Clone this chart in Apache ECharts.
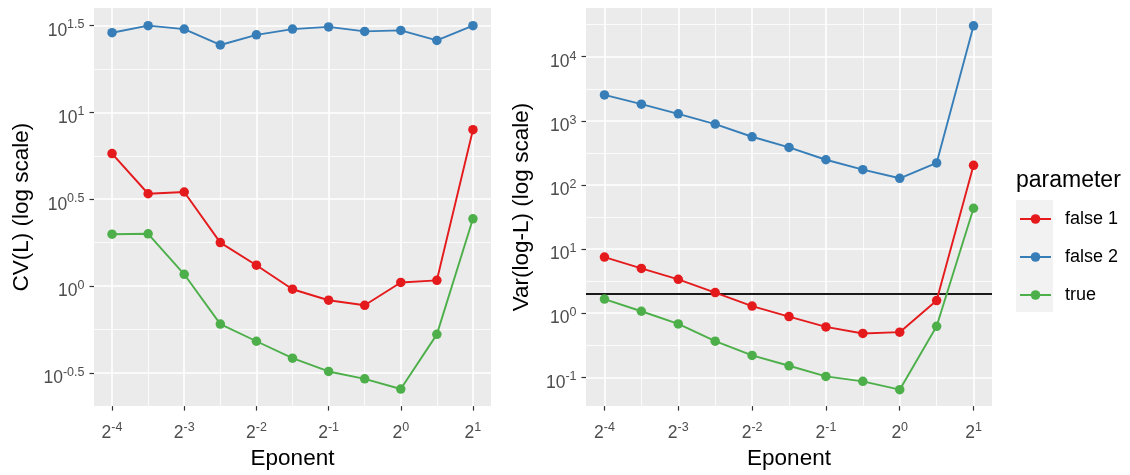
<!DOCTYPE html>
<html><head><meta charset="utf-8">
<script src="https://cdn.jsdelivr.net/npm/echarts@6/dist/echarts.min.js"></script>
<style>html,body{margin:0;padding:0;background:#fff}#c{width:1130px;height:475px}</style>
</head><body><div id="c"></div>
<script>
// ---- data ----
const eponent = [0.0625, 0.08839, 0.125, 0.17678, 0.25, 0.35355, 0.5, 0.70711, 1, 1.41421, 2];
const seriesNames = ['false 1', 'false 2', 'true'];
const cvFalse1 = [5.79, 3.40, 3.48, 1.78, 1.32, 0.96, 0.83, 0.776, 1.05, 1.08, 7.94];
const cvFalse2 = [28.7, 31.5, 30.1, 24.4, 27.9, 30.1, 31.0, 29.2, 29.6, 25.9, 31.5];
const cvTrue   = [1.99, 2.00, 1.17, 0.605, 0.482, 0.385, 0.323, 0.293, 0.256, 0.528, 2.44];
const varFalse1 = [7.48, 4.99, 3.37, 2.09, 1.29, 0.885, 0.61, 0.482, 0.505, 1.57, 202];
const varFalse2 = [2535, 1820, 1285, 889, 564, 385, 247, 173, 127, 220, 30300];
const varTrue   = [1.66, 1.07, 0.68, 0.366, 0.219, 0.151, 0.103, 0.0863, 0.064, 0.623, 43.3];
const threshold = 2;
// tick labels (exponents)
const xTickExp = [-4, -3, -2, -1, 0, 1];
const xMinorExp = [-3.5, -2.5, -1.5, -0.5, 0.5];
const cvTickExp = [-0.5, 0, 0.5, 1, 1.5];
const cvMinorExp = [-0.25, 0.25, 0.75, 1.25];
const varTickExp = [-1, 0, 1, 2, 3, 4];
const varMinorExp = [-0.5, 0.5, 1.5, 2.5, 3.5, 4.5];

const colors = ['#E41A1C', '#377EB8', '#4DAF4A'];
const FONT = 'Liberation Sans, Arial, Helvetica, sans-serif';
const TICKC = '#4D4D4D';

const chart = echarts.init(document.getElementById('c'), null, {renderer: 'canvas'});

const richX = {
  b: {fontSize: 17.5, color: TICKC, fontFamily: FONT},
  s: {fontSize: 12.5, color: TICKC, fontFamily: FONT, padding: [0, 0, 11, 0]}
};
const richY = {
  b: {fontSize: 17.5, color: TICKC, fontFamily: FONT, padding: [11, 0, 0, 0]},
  s: {fontSize: 12.5, color: TICKC, fontFamily: FONT, padding: [0, 0, 1, 0]}
};
function powFmt(base) {
  return v => '{b|' + base + '}{s|' + String(v) + '}';
}
function xAxis(idx) {
  return {
    type: 'value', gridIndex: idx, min: -4.25, max: 1.25,
    axisLine: {show: false, onZero: false}, splitLine: {show: false},
    axisTick: {show: true, customValues: xTickExp, length: 4.5, lineStyle: {color: '#333', width: 1.2}},
    axisLabel: {customValues: xTickExp, formatter: powFmt(2), rich: richX, margin: 15},
    name: 'Eponent', nameLocation: 'middle', nameGap: 40,
    nameTextStyle: {fontSize: 22.5, color: '#000', fontFamily: FONT}
  };
}
function yAxis(idx, min, max, ticks, name, gap) {
  return {
    type: 'value', gridIndex: idx, min: min, max: max,
    axisLine: {show: false, onZero: false}, splitLine: {show: false},
    axisTick: {show: true, customValues: ticks, length: 4.5, lineStyle: {color: '#333', width: 1.2}},
    axisLabel: {customValues: ticks, formatter: powFmt(10), rich: richY, margin: 9.5},
    name: name, nameLocation: 'middle', nameGap: gap, nameRotate: 90,
    nameTextStyle: {fontSize: 22.5, color: '#000', fontFamily: FONT}
  };
}
function gridSeries(idx, yMajor, yMinor) {
  const d = [];
  xMinorExp.forEach(v => d.push({xAxis: v, lineStyle: {color: '#fff', width: 0.8, type: 'solid'}}));
  yMinor.forEach(v => d.push({yAxis: v, lineStyle: {color: '#fff', width: 0.8, type: 'solid'}}));
  xTickExp.forEach(v => d.push({xAxis: v, lineStyle: {color: '#fff', width: 1.6, type: 'solid'}}));
  yMajor.forEach(v => d.push({yAxis: v, lineStyle: {color: '#fff', width: 1.6, type: 'solid'}}));
  return {
    type: 'line', xAxisIndex: idx, yAxisIndex: idx, data: [], silent: true, z: 1,
    markLine: {symbol: ['none', 'none'], silent: true, animation: false, label: {show: false}, z: 1,
      emphasis: {disabled: true}, lineStyle: {type: 'solid'}, data: d}
  };
}
function dataSeries(idx, name, vals, color) {
  return {
    type: 'line', name: name, xAxisIndex: idx, yAxisIndex: idx, z: 3,
    data: eponent.map((x, i) => [Math.log2(x), Math.log10(vals[i])]),
    symbol: 'circle', symbolSize: 9.5, showSymbol: true,
    lineStyle: {color: color, width: 1.9}, itemStyle: {color: color},
    emphasis: {disabled: true}, animation: false
  };
}

const option = {
  backgroundColor: '#fff',
  animation: false,
  grid: [
    {left: 94, top: 8, width: 397, height: 399, show: true, backgroundColor: '#EBEBEB', borderWidth: 0, containLabel: false},
    {left: 586, top: 8, width: 406, height: 399, show: true, backgroundColor: '#EBEBEB', borderWidth: 0, containLabel: false}
  ],
  xAxis: [xAxis(0), xAxis(1)],
  yAxis: [
    yAxis(0, -0.69, 1.6, cvTickExp, 'CV(L) (log scale)', 61),
    yAxis(1, -1.45, 4.76, varTickExp, 'Var(log-L) (log scale)', 53)
  ],
  legend: {
    data: seriesNames, orient: 'vertical', left: 1014, top: 205,
    itemWidth: 31, itemHeight: 12, itemGap: 20,
    textStyle: {fontSize: 18, color: '#000', fontFamily: FONT, padding: [0, 0, 0, 9]},
    selectedMode: false
  },
  graphic: [
    {type: 'rect', shape: {x: 1016, y: 200, width: 37, height: 112}, style: {fill: '#F2F2F2'}, z: 0},
    {type: 'text', left: 1016, top: 169, style: {text: 'parameter', fontSize: 23, fill: '#000', fontFamily: FONT}, z: 5}
  ],
  series: [
    gridSeries(0, cvTickExp, cvMinorExp),
    gridSeries(1, varTickExp, varMinorExp),
    dataSeries(0, seriesNames[0], cvFalse1, colors[0]),
    dataSeries(0, seriesNames[1], cvFalse2, colors[1]),
    dataSeries(0, seriesNames[2], cvTrue, colors[2]),
    {
      type: 'line', xAxisIndex: 1, yAxisIndex: 1, data: [], silent: true, z: 2,
      markLine: {symbol: ['none', 'none'], silent: true, animation: false, label: {show: false}, z: 2,
        emphasis: {disabled: true},
        data: [{yAxis: Math.log10(threshold), lineStyle: {color: '#1A1A1A', width: 1.9, type: 'solid'}}]}
    },
    dataSeries(1, seriesNames[0], varFalse1, colors[0]),
    dataSeries(1, seriesNames[1], varFalse2, colors[1]),
    dataSeries(1, seriesNames[2], varTrue, colors[2])
  ]
};
chart.setOption(option);
</script></body></html>
